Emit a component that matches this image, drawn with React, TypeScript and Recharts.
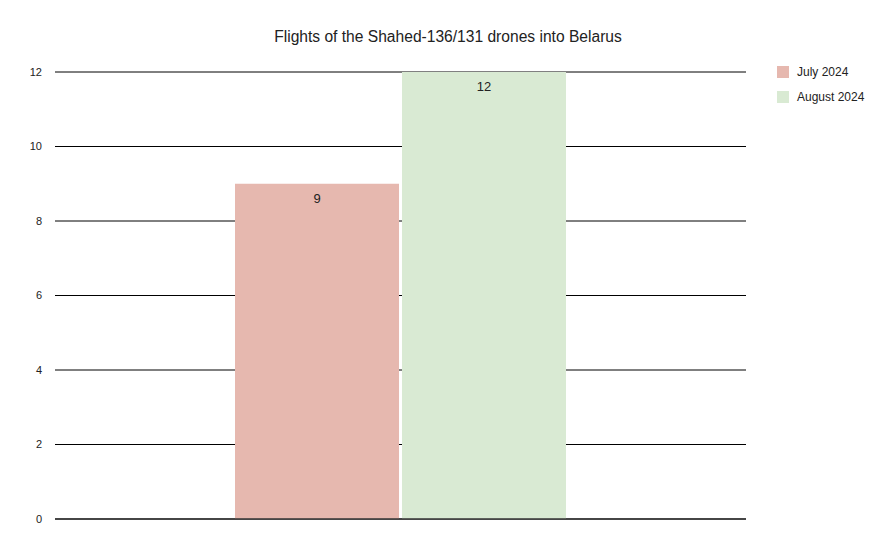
import React from "react";
import { BarChart, Bar, XAxis, YAxis, CartesianGrid, LabelList, ReferenceLine } from "recharts";

const categories = [""];
const julyValues = [9];
const augustValues = [12];
const yTicks = [0, 2, 4, 6, 8, 10, 12];
const seriesNames = ["July 2024", "August 2024"];
const seriesColors = ["#e6b8af", "#d9ead3"];

const data = categories.map((c, i) => ({ name: c, july: julyValues[i], august: augustValues[i] }));

const FONT = "'Liberation Sans', Arial, sans-serif";

export default function App() {
  return (
    <div style={{ position: "absolute", left: 0, top: 0, width: 894, height: 554, background: "#fff" }}>
      <div
        style={{
          position: "absolute",
          left: 0,
          width: 896,
          top: 28,
          textAlign: "center",
          fontFamily: FONT,
          fontSize: 15.6,
          color: "#222",
        }}
      >
        Flights of the Shahed-136/131 drones into Belarus
      </div>
      <div style={{ position: "absolute", left: 777, top: 59, fontFamily: FONT, fontSize: 12, color: "#222" }}>
        {seriesNames.map((n, i) => (
          <div key={n} style={{ display: "flex", alignItems: "center", height: 25 }}>
            <span style={{ display: "inline-block", width: 12, height: 12, background: seriesColors[i], marginRight: 8 }} />
            <span>{n}</span>
          </div>
        ))}
      </div>
      <BarChart
        width={894}
        height={554}
        data={data}
        margin={{ top: 72, right: 148, bottom: 35, left: 0 }}
        barCategoryGap={180}
        barGap={3}
      >
        <CartesianGrid vertical={false} stroke="#000" strokeOpacity={1} />
        <XAxis dataKey="name" hide />
        <YAxis
          domain={[0, 12]}
          ticks={yTicks}
          width={55}
          axisLine={false}
          tickLine={false}
          tickMargin={7}
          tick={{ fontFamily: FONT, fontSize: 11, fill: "#222" }}
        />
        <ReferenceLine y={0} stroke="#333" strokeWidth={1.5} />
        <Bar dataKey="july" name={seriesNames[0]} fill={seriesColors[0]} isAnimationActive={false}>
          <LabelList dataKey="july" position="insideTop" offset={10} style={{ fontFamily: FONT, fontSize: 13, fill: "#222" }} />
        </Bar>
        <Bar dataKey="august" name={seriesNames[1]} fill={seriesColors[1]} isAnimationActive={false}>
          <LabelList dataKey="august" position="insideTop" offset={10} style={{ fontFamily: FONT, fontSize: 13, fill: "#222" }} />
        </Bar>
      </BarChart>
    </div>
  );
}
